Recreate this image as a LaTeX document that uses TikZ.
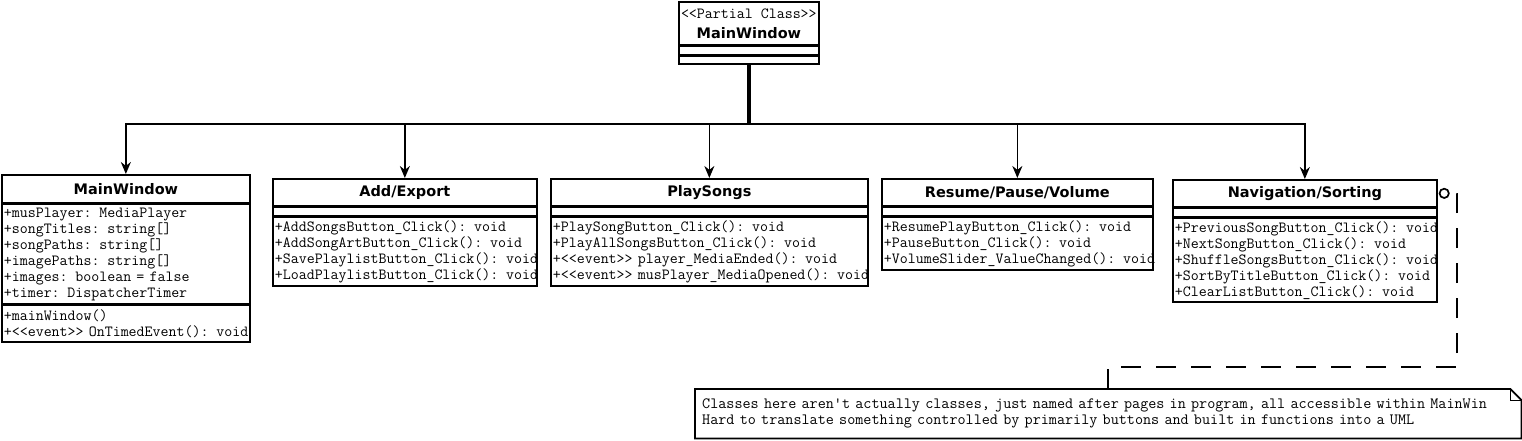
\documentclass[tikz,border=0pt]{standalone}
\usepackage{fontspec}
\newfontfamily\headfont{DejaVu Sans}
\newcommand\stereo[1]{<\kern0pt<#1>\kern0pt>}
\usetikzlibrary{arrows.meta}

\begin{document}
\begin{tikzpicture}[x=1pt, y=-1pt,
	classHead/.style={rectangle, draw, line width=1.7pt, inner sep=0pt, anchor=north west, font=\headfont\bfseries\fontsize{14.5}{16}\selectfont},
	classPart/.style={rectangle, draw, line width=1.7pt, inner xsep=2pt, inner ysep=0pt, anchor=north, align=left, font=\ttfamily\fontsize{15.5}{16}\selectfont},
	inherit/.style={-{Stealth[length=12pt, width=10pt]}, line width=1.7pt},
	noteLink/.style={-{Circle[open, length=11pt, width=11pt]}, line width=1.7pt, dash pattern=on 20pt off 15pt}]
		\useasboundingbox (0,0) rectangle (1522,440);

		% partial class on top
		\node[classHead, minimum width=140pt, minimum height=43pt, align=center](partialHead) at (678,1){{\ttfamily\mdseries\fontsize{15.5}{16}\selectfont \stereo{Partial Class}}\\[4pt]MainWindow};
		\node[classPart, text width=136pt, minimum height=8pt](partialAttr) at (partialHead.south){};
		\node[classPart, text width=136pt, minimum height=8pt](partialOps) at (partialAttr.south){};

		% page classes
		\node[classHead, minimum width=248pt, minimum height=28pt](mainHead) at (1,174){MainWindow};
		\node[classPart, text width=244pt, minimum height=99pt](mainAttr) at (mainHead.south){+musPlayer: MediaPlayer\\+songTitles: string[]\\+songPaths: string[]\\+imagePaths: string[]\\+images: boolean = false\\+timer: DispatcherTimer};
		\node[classPart, text width=244pt, minimum height=37pt](mainOps) at (mainAttr.south){+mainWindow()\\\mbox{+\stereo{event} OnTimedEvent(): void}};

		\node[classHead, minimum width=264pt, minimum height=27pt](addHead) at (272,178){Add/Export};
		\node[classPart, text width=260pt, minimum height=8pt](addAttr) at (addHead.south){};
		\node[classPart, text width=260pt, minimum height=69pt](addOps) at (addAttr.south){+AddSongsButton\_Click(): void\\\mbox{+AddSongArtButton\_Click(): void}\\\mbox{+SavePlaylistButton\_Click(): void}\\\mbox{+LoadPlaylistButton\_Click(): void}};

		\node[classHead, minimum width=317pt, minimum height=27pt](playHead) at (550,178){PlaySongs};
		\node[classPart, text width=313pt, minimum height=8pt](playAttr) at (playHead.south){};
		\node[classPart, text width=313pt, minimum height=69pt](playOps) at (playAttr.south){+PlaySongButton\_Click(): void\\+PlayAllSongsButton\_Click(): void\\+\stereo{event} player\_MediaEnded(): void\\\mbox{+\stereo{event} musPlayer\_MediaOpened(): void}};

		\node[classHead, minimum width=271pt, minimum height=27pt](resumeHead) at (881,178){Resume/Pause/Volume};
		\node[classPart, text width=267pt, minimum height=8pt](resumeAttr) at (resumeHead.south){};
		\node[classPart, text width=267pt, minimum height=53pt](resumeOps) at (resumeAttr.south){\mbox{+ResumePlayButton\_Click(): void}\\+PauseButton\_Click(): void\\\mbox{+VolumeSlider\_ValueChanged(): void}};

		\node[classHead, minimum width=264pt, minimum height=27pt](navHead) at (1172,179){Navigation/Sorting};
		\node[classPart, text width=260pt, minimum height=8pt](navAttr) at (navHead.south){};
		\node[classPart, text width=260pt, minimum height=84pt](navOps) at (navAttr.south){\mbox{+PreviousSongButton\_Click(): void}\\+NextSongButton\_Click(): void\\\mbox{+ShuffleSongsButton\_Click(): void}\\\mbox{+SortByTitleButton\_Click(): void}\\+ClearListButton\_Click(): void};

		% note
		\node[rectangle, anchor=north west, minimum width=826pt, minimum height=49pt, text width=812pt, inner xsep=7pt, inner ysep=0pt, align=left, font=\ttfamily\fontsize{15.7}{16}\selectfont](noteBox) at (695,389){\mbox{Classes here aren't actually classes, just named after pages in program, all accessible within MainWin}\\Hard to translate something controlled by primarily buttons and built in functions into a UML};
		\draw[line width=1.7pt] (noteBox.north west) -- ([xshift=-11pt]noteBox.north east) -- ([yshift=-11pt]noteBox.north east) -- (noteBox.south east) -- (noteBox.south west) -- cycle;
		\draw[line width=1pt] ([xshift=-11pt]noteBox.north east) -- ++(0,11) -- ++(11,0);

		% draw page edges
		\draw[inherit] ([xshift=-1pt]partialOps.south) -- ++(0,59) -| (mainHead.north);
		\draw[inherit] ([xshift=-0.5pt]partialOps.south) -- ++(0,59) -| (addHead.north);
		\draw[inherit] (partialOps.south) -- ++(0,59) -| (playHead.north);
		\draw[inherit] ([xshift=0.5pt]partialOps.south) -- ++(0,59) -| (resumeHead.north);
		\draw[inherit] ([xshift=1pt]partialOps.south) -- ++(0,59) -| (navHead.north);

		% draw note link
		\draw[noteLink] (noteBox.north) |- ++(349,-22) |- ([xshift=1pt]navHead.east);
	\end{tikzpicture}
\end{document}
